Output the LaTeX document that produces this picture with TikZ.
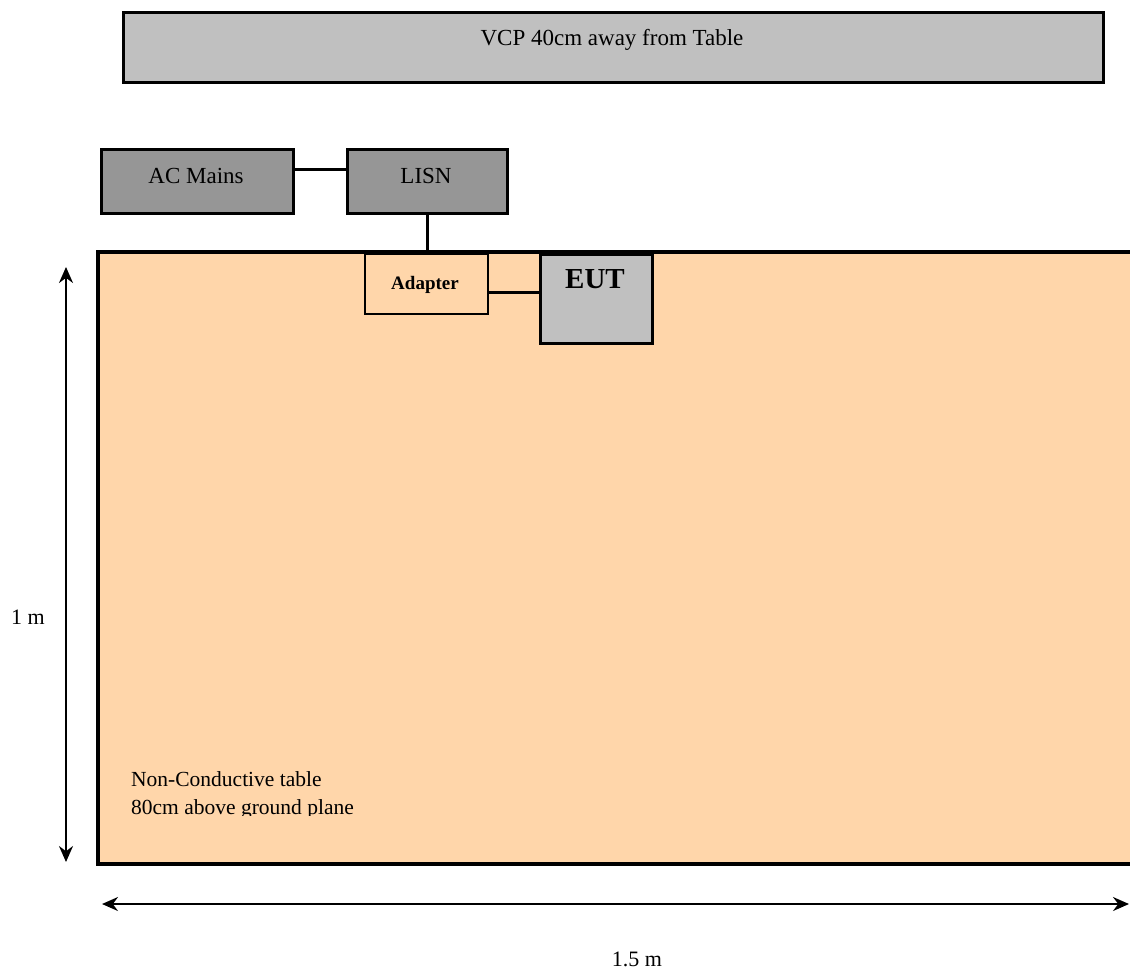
\documentclass[tikz,border=0pt]{standalone}
\usepackage{fontspec}
\setmainfont{Liberation Serif}
\usetikzlibrary{arrows.meta}
\definecolor{vcpgray}{HTML}{C0C0C0}
\definecolor{darkbox}{HTML}{969696}
\definecolor{peach}{HTML}{FFD6AA}
\tikzset{
  box/.style={draw=black, line width=2.5pt, inner sep=0pt, anchor=north west},
  wire/.style={draw=black, line width=3pt},
  dim/.style={draw=black, line width=2pt, {Stealth[length=16pt,width=14pt]}-{Stealth[length=16pt,width=14pt]}},
  txt/.style={font=\fontsize{23}{27}\selectfont, inner sep=0pt, anchor=base},
  small/.style={font=\fontsize{21.5}{26}\selectfont, inner sep=0pt, anchor=base west},
}
\begin{document}
\begin{tikzpicture}[x=1pt, y=-1pt]
\useasboundingbox (0,0) rectangle (1130,970);
% VCP
\node[box, fill=vcpgray, minimum width=980pt, minimum height=70pt] (vcp) at (122,11) {};
\node[txt] (vcptext) at (612,45) {VCP 40cm away from Table};
% AC Mains and LISN
\node[box, fill=darkbox, minimum width=192pt, minimum height=64pt] (ac) at (100,148) {};
\node[txt] (actext) at (196,183) {AC Mains};
\node[box, fill=darkbox, minimum width=160pt, minimum height=64pt] (lisn) at (346,148) {};
\node[txt] (lisntext) at (426,183) {LISN};
% Table
\node[draw=black, line width=3.5pt, fill=peach, inner sep=0pt, anchor=north west,
      minimum width=1060pt, minimum height=612pt] (table) at (96,250) {};
% Adapter and EUT
\node[box, line width=2pt, fill=peach, minimum width=123pt, minimum height=60pt] (adapter) at (364,253) {};
\node[txt, font=\fontsize{19}{23}\selectfont\bfseries] (adaptertext) at (425,289) {Adapter};
\node[box, fill=vcpgray, minimum width=112pt, minimum height=89pt] (eut) at (539,253) {};
\node[txt, font=\fontsize{29}{34}\selectfont\bfseries] (euttext) at (595,288) {EUT};
% wires
\draw[wire] ([yshift=12pt]ac.east) -- ([yshift=12pt]ac.east -| lisn.west);
\draw[wire] (lisn.south) -- (lisn.south |- table.north);
\draw[wire] ([yshift=-8pt]adapter.east) -- ([yshift=-8pt]adapter.east -| eut.west);
% table text (clipped bottom)
\begin{scope}
\clip (100,740) rectangle (600,815.5);
\node[small] (t1) at (131,786) {Non-Conductive table};
\node[small] (t2) at (131,814) {80cm above ground plane};
\end{scope}
% dimensions
\coordinate (vtop) at (66,267);
\coordinate (vbot) at (66,862);
\draw[dim] (vtop) -- (vbot);
\node[txt, font=\fontsize{22}{26}\selectfont] (onem) at (28,624) {1 m};
\coordinate (hleft) at (102,904);
\coordinate (hright) at (1129,904);
\draw[dim] (hleft) -- (hright);
\node[txt, font=\fontsize{22}{26}\selectfont] (onefive) at (637,966) {1.5 m};
\end{tikzpicture}
\end{document}
